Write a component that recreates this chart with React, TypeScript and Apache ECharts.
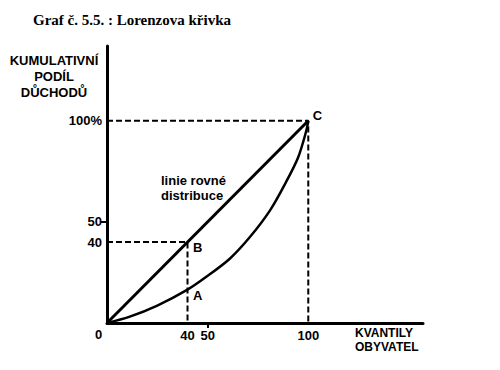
import React, { useEffect, useRef } from "react";
import * as echarts from "echarts";

const title = "Graf č. 5.5. : Lorenzova křivka";
const yName = "KUMULATIVNÍ\nPODÍL\nDŮCHODŮ";
const xName = "KVANTILY\nOBYVATEL";
const equalityLabel = "linie rovné\ndistribuce";
const xTickLabels = [40, 50, 100];
const yTickLabels = [40, 50, 100];
const tickMarks = [50];
const equalityLine = [[0, 0], [100, 100]];
const lorenzX = [0, 11, 25, 40, 49, 61, 71, 81, 89, 95, 99, 100];
const lorenzY = [0, 3, 8.6, 16.5, 22.6, 31.8, 42.5, 55.7, 69.8, 82, 95, 100];
const guideB = [[0, 40], [40, 40], [40, 0]];
const guideC = [[0, 100], [100, 100], [100, 0]];
const pointNames = ["A", "B", "C"];
const pointValues = [[40, 16.5], [40, 40], [100, 100]];
const pointOffsets = [[0, 6], [0, 5], [-1, -5]];

const FONT = "'Liberation Sans', Arial, sans-serif";

export default function App() {
  const ref = useRef<HTMLDivElement>(null);
  useEffect(() => {
    document.body.style.margin = "0";
    if (!ref.current) return;
    const chart = echarts.init(ref.current, null, { renderer: "svg" });
    const dash = { color: "#000", width: 2, type: [6, 3] as number[] };
    chart.setOption({
      animation: false,
      backgroundColor: "#fff",
      title: {
        text: title,
        left: 28,
        top: 7,
        textStyle: { fontFamily: "'Liberation Serif', 'Times New Roman', serif", fontSize: 15, fontWeight: "bold", color: "#000" },
      },
      grid: { left: 107, top: 46, width: 316, height: 277, containLabel: false },
      xAxis: {
        type: "value",
        min: 0,
        max: 157,
        splitLine: { show: false },
        axisLine: { lineStyle: { color: "#000", width: 3 } },
        axisTick: { show: true, customValues: tickMarks, length: 5, lineStyle: { color: "#000", width: 2 } },
        axisLabel: { customValues: xTickLabels, margin: 6, color: "#000", fontFamily: FONT, fontWeight: "bold", fontSize: 13 },
      },
      yAxis: {
        type: "value",
        min: 0,
        max: 137,
        splitLine: { show: false },
        axisLine: { lineStyle: { color: "#000", width: 3 } },
        axisTick: { show: true, customValues: tickMarks, length: 6, lineStyle: { color: "#000", width: 2 } },
        axisLabel: {
          customValues: yTickLabels,
          margin: 5,
          color: "#000",
          fontFamily: FONT,
          fontWeight: "bold",
          fontSize: 13,
          formatter: (v: number) => (v === 100 ? "100%" : String(v)),
        },
      },
      graphic: [
        { type: "text", left: 4, top: 52, style: { text: yName, fill: "#000", font: `bold 13px ${FONT}`, textAlign: "center", lineHeight: 16, width: 100 } },
        { type: "text", x: 355, y: 326, style: { text: xName, fill: "#000", font: `bold 12px ${FONT}`, lineHeight: 14 } },
        { type: "text", x: 95, y: 328, style: { text: "0", fill: "#000", font: `bold 13px ${FONT}` } },
        { type: "text", x: 161, y: 173, style: { text: equalityLabel, fill: "#000", font: `bold 13px ${FONT}`, lineHeight: 15 } },
      ],
      series: [
        { type: "line", data: guideB, symbol: "none", lineStyle: dash, z: 1 },
        { type: "line", data: guideC, symbol: "none", lineStyle: dash, z: 1 },
        { type: "line", data: equalityLine, symbol: "none", lineStyle: { color: "#000", width: 3 }, z: 2 },
        {
          type: "line",
          data: lorenzX.map((x, i) => [x, lorenzY[i]]),
          symbol: "none",
          smooth: 0.3,
          lineStyle: { color: "#000", width: 2.5 },
          z: 2,
        },
        {
          type: "scatter",
          symbolSize: 1,
          itemStyle: { color: "#000", opacity: 0 },
          data: pointValues.map((v, i) => ({
            value: v,
            name: pointNames[i],
            label: { offset: pointOffsets[i] },
          })),
          label: {
            show: true,
            position: "right",
            formatter: (p: any) => p.name,
            color: "#000",
            opacity: 1,
            fontFamily: FONT,
            fontWeight: "bold",
            fontSize: 13,
          },
          emphasis: { disabled: true },
          z: 3,
        },
      ],
    });
    return () => chart.dispose();
  }, []);
  return <div ref={ref} style={{ width: 500, height: 370 }} />;
}
